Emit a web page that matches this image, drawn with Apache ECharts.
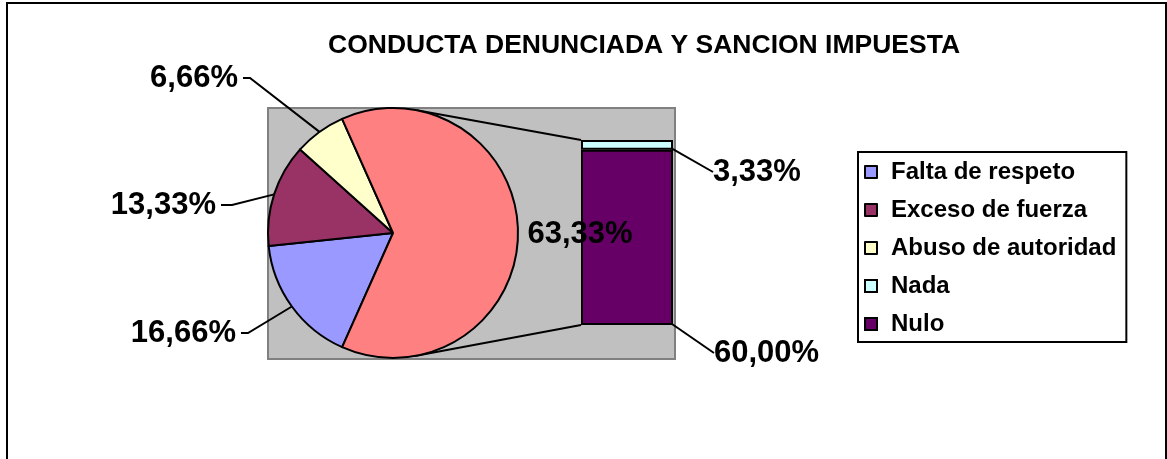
<!DOCTYPE html>
<html>
<head>
<meta charset="utf-8">
<script src="https://cdn.jsdelivr.net/npm/echarts@6/dist/echarts.min.js"></script>
<style>
  html, body { margin: 0; padding: 0; background: #fff; }
  #chart { width: 1167px; height: 459px; }
</style>
</head>
<body>
<div id="chart"></div>
<script>
// pie part
var pieNames = ['Falta de respeto', 'Exceso de fuerza', 'Abuso de autoridad', 'Otros'];
var pieValues = [16.66, 13.33, 6.66, 63.33];
var pieColors = ['#9999FF', '#993366', '#FFFFCC', '#FF8080'];

// bar part (breakdown of "Otros")
var barNames = ['Nulo', 'Nada'];
var barValues = [60.00, 3.33];
var barColors = ['#660066', '#CCFFFF'];

var legendNames = ['Falta de respeto', 'Exceso de fuerza', 'Abuso de autoridad', 'Nada', 'Nulo'];

var font = 'Liberation Sans, Arial, sans-serif';
var pieCenter = [393, 233];
var pieRadius = 125;
var gridLeft = 581, gridTop = 140, gridW = 92, gridH = 185;

// label anchors: [text right x, text middle y, bend x]
var pieLabelPos = [[236, 333, 248], [216, 205, 232], [238, 78, 250]];
var barLabelPos = { 'Nada': [713, 172, 706, 170], 'Nulo': [714, 353, 705, 349] };

function pct(v) {
  return v.toFixed(2).replace('.', ',') + '%';
}

var chart = echarts.init(document.getElementById('chart'));

var pieData = pieNames.map(function (n, i) {
  var d = { name: n, value: pieValues[i], itemStyle: { color: pieColors[i] } };
  if (i === 3) d.labelLine = { show: false };
  return d;
});

var barSeries = barNames.map(function (n, i) {
  return {
    name: n,
    type: 'bar',
    stack: 'otros',
    z: 2,
    barWidth: '100%',
    data: [barValues[i]],
    itemStyle: { color: barColors[i], borderColor: '#000', borderWidth: 2 },
    label: {
      show: true,
      position: 'right',
      formatter: function (p) { return pct(p.value); },
      fontFamily: font, fontWeight: 'bold', fontSize: 31, color: '#000'
    },
    labelLine: { show: true, lineStyle: { color: '#000', width: 2 } },
    labelLayout: function (p) {
      var r = p.rect;
      var pos = barLabelPos[n];
      var edge = n === 'Nada' ? [r.x + r.width, r.y + 1] : [r.x + r.width, r.y + r.height / 2];
      return {
        x: pos[0], y: pos[1], align: 'left', verticalAlign: 'middle',
        labelLinePoints: [edge, [pos[2], pos[3]], [pos[0] - 4, pos[1]]]
      };
    }
  };
});

var frame = [
  { type: 'rect', z: 0, shape: { x: 7, y: 3, width: 1159, height: 520 }, style: { fill: null, stroke: '#000', lineWidth: 2 } },
  { type: 'rect', z: 0, shape: { x: 268, y: 108, width: 407, height: 251 }, style: { fill: '#C0C0C0', stroke: '#808080', lineWidth: 2 } }
];

chart.setOption({
  animation: false,
  title: {
    text: 'CONDUCTA DENUNCIADA Y SANCION IMPUESTA',
    left: 328,
    top: 32,
    padding: 0,
    textStyle: { fontFamily: font, fontWeight: 'bold', fontSize: 26.5, color: '#000' }
  },
  legend: {
    data: legendNames,
    orient: 'vertical',
    left: 858,
    top: 152,
    padding: [8, 10, 6, 6],
    itemGap: 14,
    itemWidth: 12,
    itemHeight: 12,
    icon: 'rect',
    borderColor: '#000',
    borderWidth: 2,
    itemStyle: { borderColor: '#000', borderWidth: 2 },
    textStyle: { fontFamily: font, fontWeight: 'bold', fontSize: 24, color: '#000', lineHeight: 24, padding: [0, 0, 0, 9] }
  },
  grid: { left: gridLeft, top: gridTop, width: gridW, height: gridH },
  xAxis: { type: 'category', data: [''], show: false },
  yAxis: { type: 'value', min: 0, max: 63.33, show: false },
  graphic: frame,
  series: [{
    type: 'pie',
    z: 3,
    center: pieCenter,
    radius: pieRadius,
    startAngle: 246,
    clockwise: true,
    data: pieData,
    itemStyle: { borderColor: '#000', borderWidth: 2 },
    label: {
      show: true,
      position: 'outside',
      formatter: function (p) { return pct(p.value); },
      fontFamily: font, fontWeight: 'bold', fontSize: 31, color: '#000'
    },
    labelLine: { show: true, lineStyle: { color: '#000', width: 2 } },
    labelLayout: function (p) {
      var pos = pieLabelPos[p.dataIndex];
      if (!pos) {
        return { x: 580, y: 234, align: 'center', verticalAlign: 'middle' };
      }
      var edge = p.labelLinePoints ? p.labelLinePoints[0] : [pos[2], pos[1]];
      return {
        x: pos[0], y: pos[1], align: 'right', verticalAlign: 'middle',
        labelLinePoints: [edge, [pos[2], pos[1]], [pos[0] + 5, pos[1]]]
      };
    }
  }].concat(barSeries)
});

// connector lines from the pie to the stacked bar
var total = barValues.reduce(function (a, b) { return a + b; }, 0);
var barTop = chart.convertToPixel({ xAxisIndex: 0, yAxisIndex: 0 }, [0, total]);
var barBottom = chart.convertToPixel({ xAxisIndex: 0, yAxisIndex: 0 }, [0, 0]);
var a1 = 79 * Math.PI / 180, a2 = -80 * Math.PI / 180;
var p1 = [pieCenter[0] + pieRadius * Math.cos(a1), pieCenter[1] - pieRadius * Math.sin(a1)];
var p2 = [pieCenter[0] + pieRadius * Math.cos(a2), pieCenter[1] - pieRadius * Math.sin(a2)];

chart.setOption({
  graphic: frame.concat([
    { type: 'line', z: 1, shape: { x1: p1[0], y1: p1[1], x2: gridLeft, y2: barTop[1] }, style: { stroke: '#000', lineWidth: 2 } },
    { type: 'line', z: 1, shape: { x1: p2[0], y1: p2[1], x2: gridLeft, y2: barBottom[1] }, style: { stroke: '#000', lineWidth: 2 } }
  ])
});
</script>
</body>
</html>
